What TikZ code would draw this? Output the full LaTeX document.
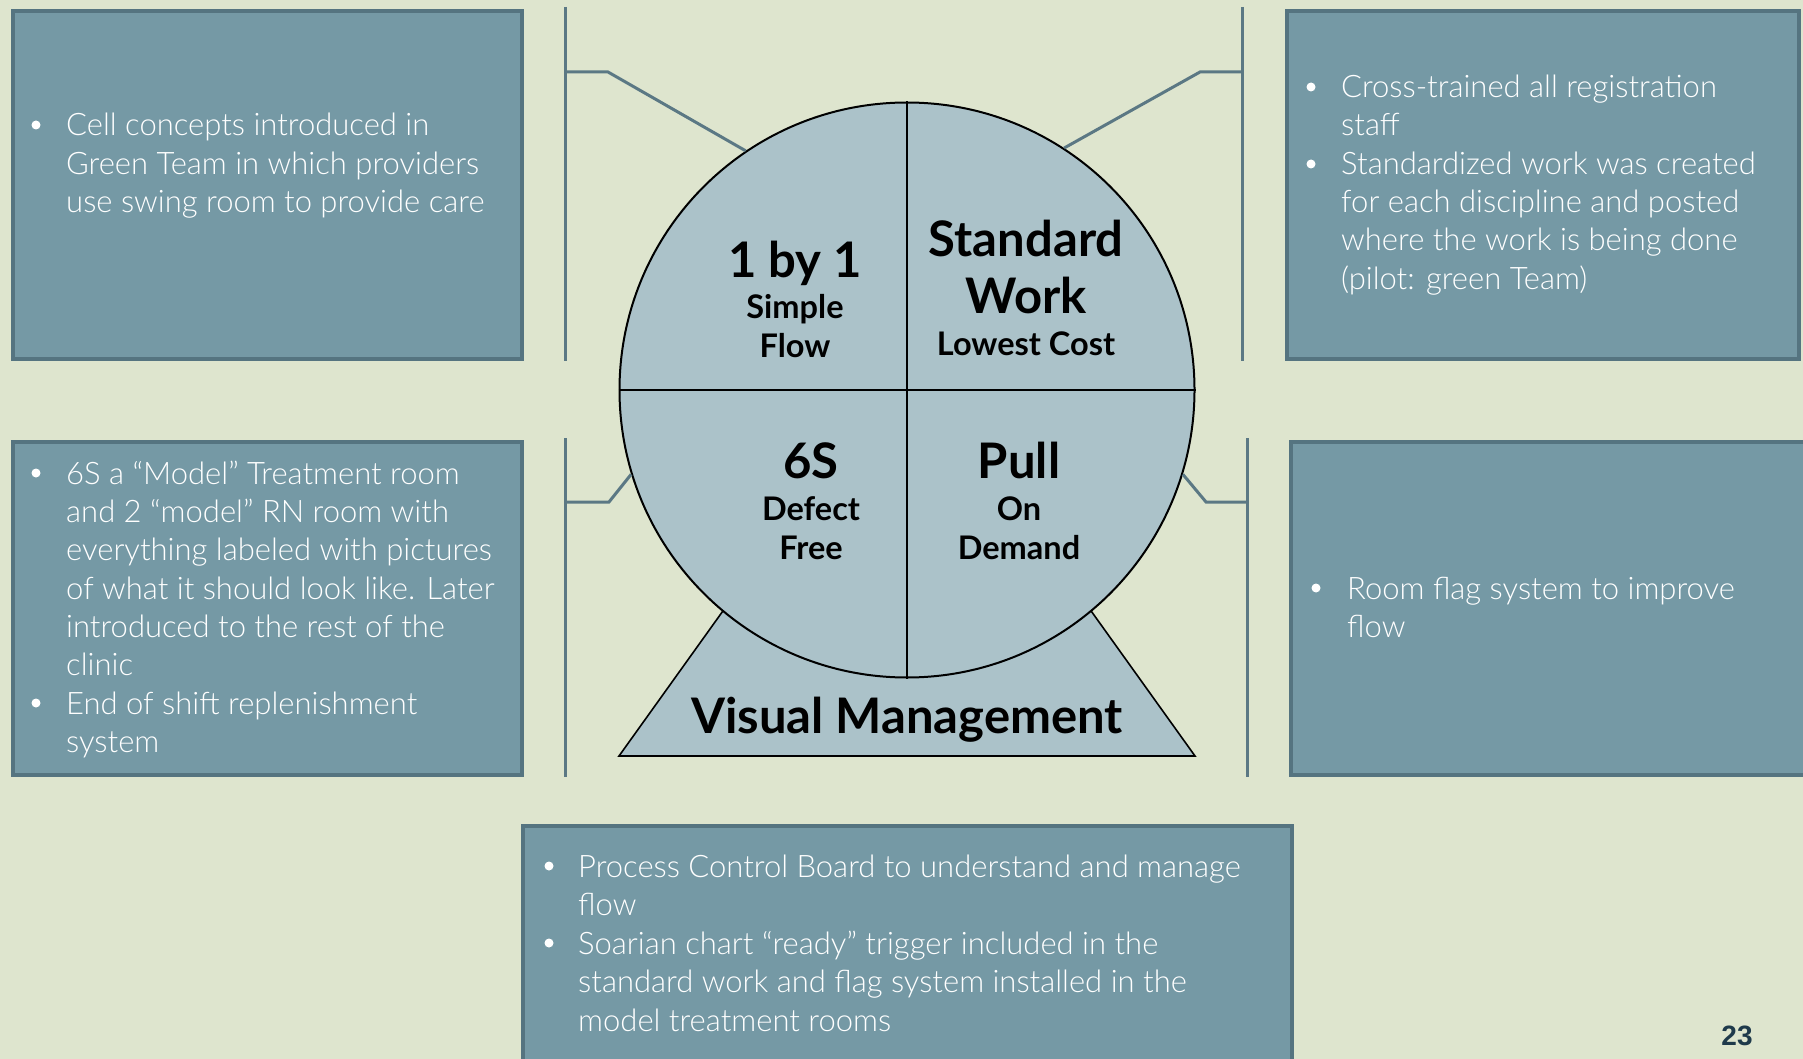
\documentclass[tikz,border=0pt]{standalone}
\usepackage{fontspec}
\setmainfont{Lato}
\newfontfamily\lightfont{Lato Light}
\newfontfamily\arialfont{Liberation Sans}
\definecolor{bg}{HTML}{DEE5CE}
\definecolor{boxfill}{HTML}{7599A5}
\definecolor{boxline}{HTML}{557480}
\definecolor{circfill}{HTML}{ABC2C9}
\definecolor{brkcol}{HTML}{5B7884}
\definecolor{pnum}{HTML}{1F3A4B}
\begin{document}
\begin{tikzpicture}[x=1pt,y=-1pt,
  panel/.style={draw=boxline, line width=4pt, fill=boxfill, anchor=north west, inner sep=0pt},
  txt/.style={anchor=base west, inner sep=0pt, text=white, font=\lightfont\fontsize{31}{38}\selectfont},
  bul/.style={circle, fill=white, inner sep=0pt, minimum size=9pt},
  brkline/.style={draw=brkcol, line width=3pt},
  bigt/.style={anchor=base, inner sep=0pt, font=\bfseries\fontsize{49}{54}\selectfont},
  smallt/.style={anchor=base, inner sep=0pt, font=\bfseries\fontsize{32.5}{36}\selectfont}]
\fill[bg] (0,0) rectangle (1803,1059);
\useasboundingbox (0,0) rectangle (1803,1059);

% panels
\node (ptl) [panel, minimum width=509pt, minimum height=348pt] at (11,9) {};
\node (ptr) [panel, minimum width=512pt, minimum height=348pt] at (1285,9) {};
\node (pml) [panel, minimum width=509pt, minimum height=333pt] at (11,440) {};
\node (pmr) [panel, minimum width=530pt, minimum height=333pt] at (1289,440) {};
\node (pbt) [panel, minimum width=769pt, minimum height=260pt] at (521,824) {};

% triangle base and circle
\path[draw, line width=1.6pt, fill=circfill] (619,756) -- (1195,756) -- (907,354) -- cycle;
\node (circ) [circle, draw, fill=circfill, line width=2pt, minimum size=575pt, inner sep=0pt] at (907,390) {};
\draw[line width=2pt] (circ.north) -- (circ.south);
\draw[line width=2pt] (circ.west) -- (circ.east);

% brackets
\coordinate (b1t) at (565,7);   \coordinate (b1b) at (565,361);
\coordinate (b1k0) at (565,72); \coordinate (b1k) at (608,72);
\coordinate (b2t) at (1242,7);  \coordinate (b2b) at (1242,361);
\coordinate (b2k0) at (1242,72); \coordinate (b2k) at (1200,72);
\coordinate (b3t) at (565,438); \coordinate (b3b) at (565,777);
\coordinate (b3k0) at (565,502); \coordinate (b3k) at (609,502);
\coordinate (b4t) at (1247,438); \coordinate (b4b) at (1247,777);
\coordinate (b4k0) at (1247,502); \coordinate (b4k) at (1206,502);
\draw[brkline] (b1t) -- (b1b);
\draw[brkline] (b1k0) -- (b1k) -- (circ.124);
\draw[brkline] (b2t) -- (b2b);
\draw[brkline] (b2k0) -- (b2k) -- (circ.57);
\draw[brkline] (b3t) -- (b3b);
\draw[brkline] (b3k0) -- (b3k) -- (circ.197);
\draw[brkline] (b4t) -- (b4b);
\draw[brkline] (b4k0) -- (b4k) -- (circ.343);

% circle texts
\node (q1a) [bigt] at (795,277) {1 by 1};
\node (q1b) [smallt] at (795,318) {Simple};
\node (q1c) [smallt] at (795,357) {Flow};
\node (q2a) [bigt] at (1026,257) {Standard};
\node (q2b) [bigt] at (1026,313) {Work};
\node (q2c) [smallt] at (1026,355) {Lowest Cost};
\node (q3a) [bigt] at (811,478) {6S};
\node (q3b) [smallt] at (811,520) {Defect};
\node (q3c) [smallt] at (811,559) {Free};
\node (q4a) [bigt] at (1019,478) {Pull};
\node (q4b) [smallt] at (1019,520) {On};
\node (q4c) [smallt] at (1019,559) {Demand};
\node (vm) [bigt] at (907,733) {Visual Management};

% top-left panel text
\node (tlb1) [bul] at (36,125) {};
\node (tl1) [txt] at (66,136) {Cell concepts introduced in};
\node (tl2) [txt] at (66,174.5) {Green Team in which providers};
\node (tl3) [txt] at (66,213) {use swing room to provide care};

% top-right panel text
\node (trb1) [bul] at (1311,87) {};
\node (tr1) [txt] at (1341,97.5) {Cross-trained all registration};
\node (tr2) [txt] at (1341,136) {staff};
\node (trb2) [bul] at (1311,164) {};
\node (tr3) [txt] at (1341,174.5) {Standardized work was created};
\node (tr4) [txt] at (1341,213) {for each discipline and posted};
\node (tr5) [txt] at (1341,251) {where the work is being done};
\node (tr6) [txt] at (1341,289) {(pilot: green Team)};

% middle-left panel text
\node (mlb1) [bul] at (36,473) {};
\node (ml1) [txt] at (66,484) {6S a “Model” Treatment room};
\node (ml2) [txt] at (66,522) {and 2 “model” RN room with};
\node (ml3) [txt] at (66,560) {everything labeled with pictures};
\node (ml4) [txt] at (66,599) {of what it should look like. Later};
\node (ml5) [txt] at (66,637) {introduced to the rest of the};
\node (ml6) [txt] at (66,675) {clinic};
\node (mlb2) [bul] at (36,703) {};
\node (ml7) [txt] at (66,714) {End of shift replenishment};
\node (ml8) [txt] at (66,752) {system};

% middle-right panel text
\node (mrb1) [bul] at (1316,588) {};
\node (mr1) [txt] at (1347,599) {Room flag system to improve};
\node (mr2) [txt] at (1347,637) {flow};

% bottom panel text
\node (btb1) [bul] at (549,866) {};
\node (bt1) [txt] at (578,877) {Process Control Board to understand and manage};
\node (bt2) [txt] at (578,915) {flow};
\node (btb2) [bul] at (549,943) {};
\node (bt3) [txt] at (578,954) {Soarian chart “ready” trigger included in the};
\node (bt4) [txt] at (578,992) {standard work and flag system installed in the};
\node (bt5) [txt] at (578,1031) {model treatment rooms};

% page number
\node (pg) [anchor=base, inner sep=0pt, text=pnum, font=\arialfont\bfseries\fontsize{28}{30}\selectfont] at (1737,1045) {23};
\end{tikzpicture}
\end{document}
